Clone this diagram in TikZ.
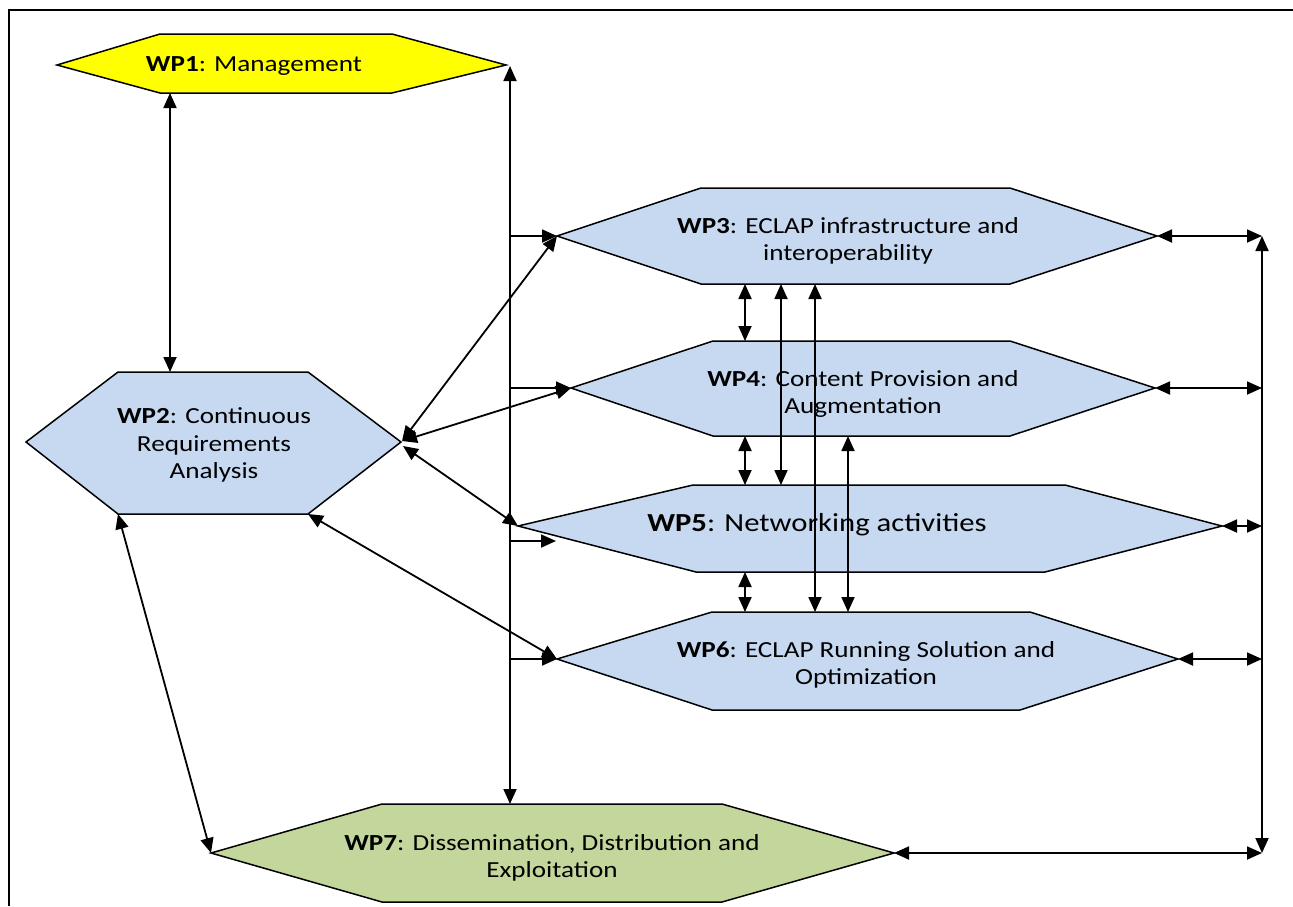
\documentclass[tikz,border=0pt]{standalone}
\usepackage{fontspec}
\setmainfont{Carlito}
\usetikzlibrary{arrows.meta}
\definecolor{hexblue}{HTML}{C6D9F1}
\definecolor{hexyellow}{HTML}{FFFF00}
\definecolor{hexgreen}{HTML}{C3D69B}
\tikzset{
  hexa/.style={draw=black, line width=1.5pt, line join=miter},
  lbl/.style={align=center, font=\fontsize{23}{27.5}\selectfont, xscale=1.18, inner sep=0pt},
  biglbl/.style={align=center, font=\fontsize{26}{30}\selectfont, xscale=1.18, inner sep=0pt},
  conn/.style={line width=1.8pt, {Triangle[length=15pt,width=13pt]}-{Triangle[length=15pt,width=13pt]}},
  oneway/.style={line width=1.8pt, -{Triangle[length=15pt,width=13pt]}},
  frameline/.style={line width=2.2pt}
}
\begin{document}
\begin{tikzpicture}[x=1pt,y=-1pt]
\useasboundingbox (0,0) rectangle (1293,906);
\fill[white] (0,0) rectangle (1293,906);
% frame
\draw[frameline] (9,906) -- (9,10) -- (1293,10);

% ---------- hexagon corners ----------
% WP1
\coordinate (w1L) at (57,65);   \coordinate (w1R) at (506,65);
\coordinate (w1TL) at (160,34); \coordinate (w1TR) at (392,34);
\coordinate (w1BL) at (160,93); \coordinate (w1BR) at (392,93);
% WP2
\coordinate (w2L) at (26,442);   \coordinate (w2R) at (401,442);
\coordinate (w2TL) at (118,372); \coordinate (w2TR) at (308,372);
\coordinate (w2BL) at (118,514); \coordinate (w2BR) at (308,514);
% WP3
\coordinate (w3L) at (557,236);  \coordinate (w3R) at (1157,236);
\coordinate (w3TL) at (701,188); \coordinate (w3TR) at (1010,188);
\coordinate (w3BL) at (701,284); \coordinate (w3BR) at (1010,284);
% WP4
\coordinate (w4L) at (571,388);  \coordinate (w4R) at (1155,388);
\coordinate (w4TL) at (713,341); \coordinate (w4TR) at (1010,341);
\coordinate (w4BL) at (713,436); \coordinate (w4BR) at (1010,436);
% WP5
\coordinate (w5L) at (518,526);  \coordinate (w5R) at (1222,526);
\coordinate (w5TL) at (693,485); \coordinate (w5TR) at (1065,485);
\coordinate (w5BL) at (696,572); \coordinate (w5BR) at (1045,572);
% WP6
\coordinate (w6L) at (557,659);  \coordinate (w6R) at (1178,659);
\coordinate (w6TL) at (712,612); \coordinate (w6TR) at (1030,612);
\coordinate (w6BL) at (712,710); \coordinate (w6BR) at (1020,710);
% WP7
\coordinate (w7L) at (211,853);  \coordinate (w7R) at (894,853);
\coordinate (w7TL) at (382,804); \coordinate (w7TR) at (722,804);
\coordinate (w7BL) at (382,902); \coordinate (w7BR) at (722,902);

% ---------- hexagons ----------
\filldraw[hexa, fill=hexyellow] (w1L) -- (w1TL) -- (w1TR) -- (w1R) -- (w1BR) -- (w1BL) -- cycle;
\filldraw[hexa, fill=hexblue]  (w2L) -- (w2TL) -- (w2TR) -- (w2R) -- (w2BR) -- (w2BL) -- cycle;
\filldraw[hexa, fill=hexblue]  (w3L) -- (w3TL) -- (w3TR) -- (w3R) -- (w3BR) -- (w3BL) -- cycle;
\filldraw[hexa, fill=hexblue]  (w4L) -- (w4TL) -- (w4TR) -- (w4R) -- (w4BR) -- (w4BL) -- cycle;
\filldraw[hexa, fill=hexblue]  (w5L) -- (w5TL) -- (w5TR) -- (w5R) -- (w5BR) -- (w5BL) -- cycle;
\filldraw[hexa, fill=hexblue]  (w6L) -- (w6TL) -- (w6TR) -- (w6R) -- (w6BR) -- (w6BL) -- cycle;
\filldraw[hexa, fill=hexgreen] (w7L) -- (w7TL) -- (w7TR) -- (w7R) -- (w7BR) -- (w7BL) -- cycle;

% ---------- labels ----------
\node[lbl] (t1) at (254,66) {\textbf{WP1}: Management};
\node[lbl] (t2) at (214,445) {\textbf{WP2}: Continuous\\Requirements\\Analysis};
\node[lbl] (t3) at (848,241) {\textbf{WP3}: ECLAP infrastructure and\\interoperability};
\node[lbl] (t4) at (863,394) {\textbf{WP4}: Content Provision and\\Augmentation};
\node[biglbl] (t5) at (817,525) {\textbf{WP5}: Networking activities};
\node[lbl] (t6) at (866,665) {\textbf{WP6}: ECLAP Running Solution and\\Optimization};
\node[lbl] (t7) at (552,858) {\textbf{WP7}: Dissemination, Distribution and\\Exploitation};

% ---------- connector end points ----------
\coordinate (w1Bc) at (170,93);  \coordinate (w2Tc) at (170,372);
\coordinate (busTop) at (510,66); \coordinate (busBot) at (510,804);
\coordinate (b3) at (510,236); \coordinate (b4) at (510,388);
\coordinate (b5) at (510,541); \coordinate (b5e) at (556,541);
\coordinate (b6) at (510,659);
\coordinate (w2Ra) at (402,441); \coordinate (w2Rb) at (403,446);
\coordinate (rTop) at (1262,236); \coordinate (rBot) at (1262,853);
\coordinate (r4) at (1262,388); \coordinate (r5) at (1262,526); \coordinate (r6) at (1262,659);
% verticals between WP3..WP6
\coordinate (a34t) at (745,284); \coordinate (a34b) at (745,341);
\coordinate (a45t) at (745,436); \coordinate (a45b) at (745,485);
\coordinate (a56t) at (745,572); \coordinate (a56b) at (745,612);
\coordinate (a35t) at (781,284); \coordinate (a35b) at (781,485);
\coordinate (a36t) at (815,284); \coordinate (a36b) at (815,612);
\coordinate (a46t) at (848,436); \coordinate (a46b) at (848,612);

% ---------- connectors ----------
\draw[conn] (w1Bc) -- (w2Tc);
\draw[conn] (busTop) -- (busBot);
\draw[oneway] (b3) -- (w3L);
\draw[oneway] (b4) -- (w4L);
\draw[oneway] (b5) -- (b5e);
\draw[oneway] (b6) -- (w6L);
\draw[conn] (w2Ra) -- (w3L);
\draw[conn] (w2Ra) -- (w4L);
\draw[conn] (w2Rb) -- (w5L);
\draw[conn] (w2BR) -- (w6L);
\draw[conn] (w2BL) -- (w7L);
\draw[conn] (rTop) -- (rBot);
\draw[conn] (w3R) -- (rTop);
\draw[conn] (w4R) -- (r4);
\draw[conn] (w5R) -- (r5);
\draw[conn] (w6R) -- (r6);
\draw[conn] (w7R) -- (rBot);
\draw[conn] (a34t) -- (a34b);
\draw[conn] (a45t) -- (a45b);
\draw[conn] (a56t) -- (a56b);
\draw[conn] (a35t) -- (a35b);
\draw[conn] (a36t) -- (a36b);
\draw[conn] (a46t) -- (a46b);
\end{tikzpicture}
\end{document}
